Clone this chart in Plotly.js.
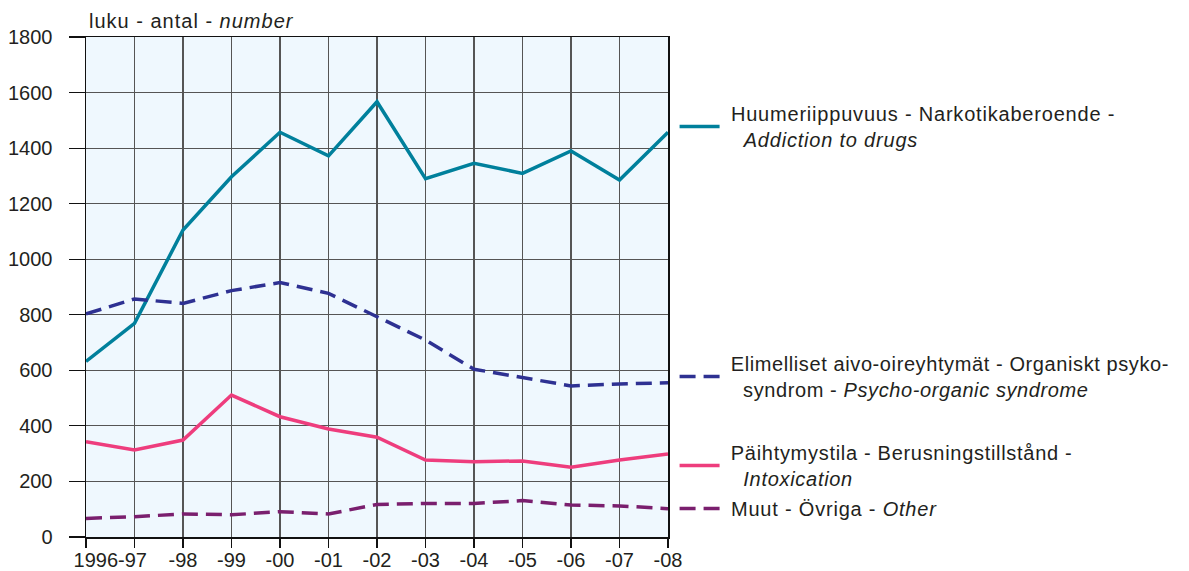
<!DOCTYPE html>
<html>
<head>
<meta charset="utf-8">
<script src="https://cdn.plot.ly/plotly-3.0.1.min.js"></script>
<style>
html,body{margin:0;padding:0;background:#fff;}
#chart{width:1189px;height:571px;}
.annotation-text { letter-spacing: 1px; }
</style>
</head>
<body>
<div id="chart"></div>
<script>
// ---- data ----
var categories = ["1996","1997","1998","1999","2000","2001","2002","2003","2004","2005","2006","2007","2008"];
var tickLabels = ["1996-97","-98","-99","-00","-01","-02","-03","-04","-05","-06","-07","-08"];
var addiction = [632, 769, 1105, 1297, 1457, 1372, 1567, 1290, 1345, 1309, 1390, 1285, 1457];
var psychoOrganic = [803, 857, 841, 887, 916, 877, 793, 709, 604, 573, 544, 551, 555];
var intoxication = [343, 313, 349, 511, 433, 389, 359, 277, 271, 274, 251, 277, 299];
var other = [67, 73, 83, 80, 91, 83, 117, 121, 121, 131, 115, 112, 102];
var nameLines = [
  ["Huumeriippuvuus - Narkotikaberoende -", "<i>Addiction to drugs</i>"],
  ["Elimelliset aivo-oireyhtymät - Organiskt psyko-", "syndrom - <i>Psycho-organic syndrome</i>"],
  ["Päihtymystila - Berusningstillstånd -", "<i>Intoxication</i>"],
  ["Muut - Övriga - <i>Other</i>"]
];
var yTitle = "luku - antal - <i>number</i>";

var spacing = [0.8, 0.6, 0.7, 0.8];
function legendName(lines, sp) {
  return lines.map(function(l, i) {
    var pad = i === 0 ? "\u00a0" : "\u00a0\u00a0\u00a0";
    return "<span style=\"letter-spacing:" + sp + "px\">" + pad + l + "</span>";
  }).join("<br>");
}

// label positions: first label spans the first two categories
var labelPos = [0.5].concat(categories.slice(2).map(function(c, i){ return i + 2; }));

var font = "Liberation Sans, Arial, Helvetica, sans-serif";
var txt = "#231f20";

var traces = [
  {x: categories, y: addiction, name: legendName(nameLines[0], spacing[0]), mode: "lines", legend: "legend",
   line: {color: "#00809c", width: 3.5}},
  {x: categories, y: psychoOrganic, name: legendName(nameLines[1], spacing[1]), mode: "lines", legend: "legend2",
   line: {color: "#2e3192", width: 3.5, dash: "16px,8px"}},
  {x: categories, y: intoxication, name: legendName(nameLines[2], spacing[2]), mode: "lines", legend: "legend3",
   line: {color: "#ee3d7d", width: 3.5}},
  {x: categories, y: other, name: legendName(nameLines[3], spacing[3]), mode: "lines", legend: "legend4",
   line: {color: "#7a1f6e", width: 3.5, dash: "16px,8px"}},
  // empty trace that only anchors the label axis
  {x: [], y: [], xaxis: "x2", yaxis: "y", mode: "lines", showlegend: false, hoverinfo: "skip"}
];

function leg(y) {
  return {x: 1.0113, xanchor: "left", y: y, yanchor: "top", bgcolor: "rgba(0,0,0,0)",
          font: {family: font, size: 20, color: txt}, itemwidth: 40, itemclick: false, itemdoubleclick: false};
}

var layout = {
  width: 1189, height: 571,
  margin: {l: 86, r: 521, t: 37, b: 34},
  paper_bgcolor: "#ffffff",
  plot_bgcolor: "#eff8fe",
  font: {family: font, size: 20, color: txt},
  showlegend: true,
  legend: leg(0.886),
  legend2: leg(0.386),
  legend3: leg(0.208),
  legend4: leg(0.096),
  xaxis: {
    type: "category", categoryorder: "array", categoryarray: categories,
    range: [0, 12], showgrid: true, gridcolor: "#555555", gridwidth: 1.2,
    showline: true, mirror: true, linecolor: "#111111", linewidth: 1.5,
    ticks: "outside", ticklen: 9, tickcolor: "#111111", tickwidth: 1.2,
    showticklabels: false, zeroline: false, fixedrange: true
  },
  xaxis2: {
    overlaying: "x", anchor: "y", side: "bottom", type: "linear",
    range: [0, 12], tickmode: "array", tickvals: labelPos, ticktext: tickLabels,
    showgrid: false, showline: false, zeroline: false, ticks: "",
    tickfont: {family: font, size: 20, color: txt}, ticklabelstandoff: 9
  },
  yaxis: {
    range: [0, 1800], dtick: 200, tick0: 0,
    showgrid: true, gridcolor: "#555555", gridwidth: 1.2,
    showline: true, mirror: true, linecolor: "#111111", linewidth: 1.5,
    ticks: "outside", ticklen: 16, tickcolor: "#111111", tickwidth: 1.2,
    zeroline: false, tickfont: {family: font, size: 20, color: txt}, ticklabelstandoff: 12, fixedrange: true
  },
  annotations: [{
    text: yTitle, xref: "paper", yref: "paper", x: 0, y: 1, xanchor: "left", yanchor: "bottom",
    xshift: 1, yshift: 3, showarrow: false, font: {family: font, size: 20, color: txt}
  }]
};

Plotly.newPlot("chart", traces, layout, {displayModeBar: false, staticPlot: true});
</script>
</body>
</html>
